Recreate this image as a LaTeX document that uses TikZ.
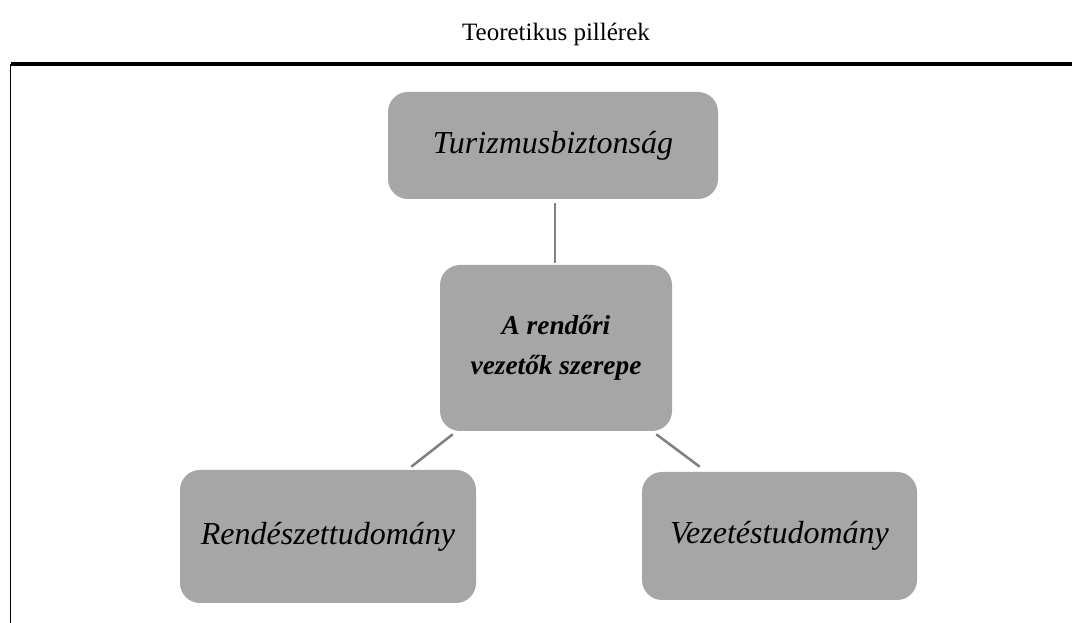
\documentclass[tikz,border=0pt]{standalone}
\usepackage{fontspec}
\setmainfont{Liberation Serif}
\usetikzlibrary{calc}
\tikzset{
  pillar/.style={fill=boxgray, rounded corners=15, inner sep=0pt,
    font=\fontsize{24}{29}\selectfont\itshape, text=black},
  link/.style={draw=linkgray, line width=1.9},
}
\definecolor{boxgray}{HTML}{A6A6A6}
\definecolor{linkgray}{HTML}{808080}
\begin{document}
\begin{tikzpicture}[x=0.75pt, y=-0.75pt]
  \useasboundingbox (0,0) rectangle (1072,623);
  \fill[white] (0,0) rectangle (1072,623);

  % title
  \node[font=\fontsize{18.75}{22}\selectfont] (title) at (556,34) {Teoretikus pillérek};

  % frame
  \coordinate (ftl) at (10.5,64);
  \coordinate (ftr) at (1072,64);
  \coordinate (fbl) at (10.5,623);
  \draw[line width=1.2] (fbl) -- (ftl);
  \draw[line width=2.4] (ftl) -- (ftr);

  % boxes
  \node[pillar, minimum width=330*0.75pt, minimum height=107*0.75pt] (t) at (553,145.5) {Turizmusbiztonság};
  \node[pillar, minimum width=232*0.75pt, minimum height=166*0.75pt, align=center,
        font=\fontsize{20.5}{30}\selectfont\bfseries\itshape] (c) at (556,348) {A rendőri\\vezetők szerepe};
  \node[pillar, minimum width=296*0.75pt, minimum height=133*0.75pt] (l) at (328,536.5) {Rendészettudomány};
  \node[pillar, minimum width=275*0.75pt, minimum height=128*0.75pt] (r) at (779.5,536) {Vezetéstudomány};

  % connectors
  \draw[link] ($(t.south)+(2,4)$) -- ($(c.north)+(-1,-2)$);
  \draw[link] ($(c.south west)+(13,3)$) -- ($(l.north east)+(-65,-3)$);
  \draw[link] ($(c.south east)+(-16,3)$) -- ($(r.north west)+(58,-5)$);
\end{tikzpicture}
\end{document}
